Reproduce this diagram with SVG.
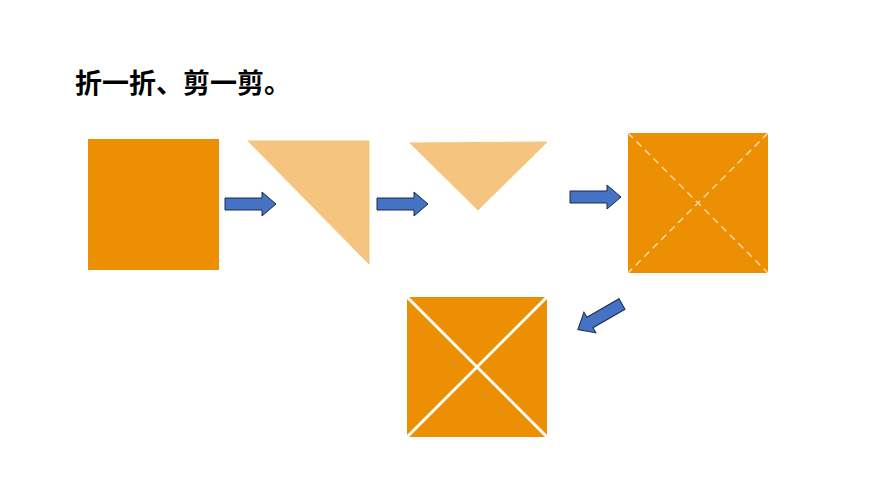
<svg xmlns="http://www.w3.org/2000/svg" width="870" height="489" viewBox="0 0 870 489">
<defs>
<style>
.sq{fill:#ED8F03}
.tri{fill:#F5C57F;stroke:#F5C57F;stroke-width:1}
.arr{fill:#4472C4;stroke:#1F2A44;stroke-width:1}
.dash{stroke:#FBE3BF;stroke-width:1.3;stroke-dasharray:7,5;fill:none}
.cut{stroke:#FFFFFF;stroke-width:3;fill:none}
</style>
<path id="ar" d="M0,-6 H37 V-12 L51,0 L37,12 V6 H0 Z"/>
</defs>
<rect width="870" height="489" fill="#fff"/>
<text x="75" y="93" font-family="Noto Sans CJK SC, sans-serif" font-size="27" font-weight="bold" fill="#000">折一折、剪一剪。</text>
<g id="square1"><rect class="sq" x="88" y="139" width="131" height="131"/></g>
<g id="tri1"><polygon class="tri" points="248,141 369,141 369,264"/></g>
<g id="tri2"><polygon class="tri" points="410,143 547,142 478,210"/></g>
<g id="square2"><rect class="sq" x="628" y="133" width="140" height="140"/>
<line class="dash" x1="628" y1="133" x2="768" y2="273"/><line class="dash" x1="768" y1="133" x2="628" y2="273"/></g>
<g id="square3"><rect class="sq" x="407" y="297" width="140" height="140"/>
<line class="cut" x1="407" y1="297" x2="547" y2="437"/><line class="cut" x1="547" y1="297" x2="407" y2="437"/></g>
<g id="connectors">
<use href="#ar" class="arr" transform="translate(225,204)"/>
<use href="#ar" class="arr" transform="translate(377,204)"/>
<use href="#ar" class="arr" transform="translate(570,197)"/>
<use href="#ar" class="arr" transform="translate(622,304) rotate(150)"/>
</g>
</svg>
